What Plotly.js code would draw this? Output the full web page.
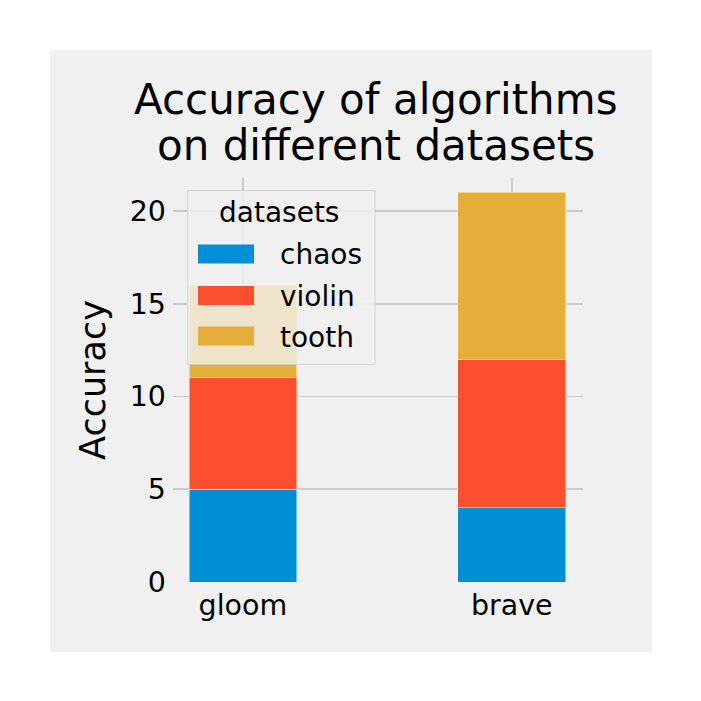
<!DOCTYPE html>
<html>
<head>
<meta charset="utf-8">
<script src="https://cdn.plot.ly/plotly-3.0.1.min.js"></script>
<style>
  html, body { margin: 0; padding: 0; background: #ffffff; width: 701px; height: 701px; overflow: hidden; }
  #chart { position: absolute; left: 50px; top: 50px; width: 602px; height: 602px; }
</style>
</head>
<body>
<div id="chart"></div>
<script>
// ---- data ----
const categories = ['gloom', 'brave'];
const seriesNames = ['chaos', 'violin', 'tooth'];
const chaos = [5, 4];
const violin = [6, 8];
const tooth = [5, 9];
const yTicks = [0, 5, 10, 15, 20];
const titleLines = ['Accuracy of algorithms', 'on different datasets'];
const yTitle = 'Accuracy';
const legendTitle = 'datasets';

// ---- style ----
const colors = ['#008fd5', '#fc4f30', '#e5ae38'];
const FONT = 'DejaVu Sans, sans-serif';
const OFF = 50;                       // div offset in page
const L = 123, T = 128, W = 410, H = 404; // plot area inside div
const px = X => (X - OFF - L) / W;
const py = Y => 1 - (Y - OFF - T) / H;

const values = [chaos, violin, tooth];
const traces = seriesNames.map((name, i) => ({
  type: 'bar',
  name: name,
  x: categories,
  y: values[i],
  width: 0.4,
  marker: { color: colors[i], line: { color: 'rgba(255,255,255,0.45)', width: 1 } },
  showlegend: false,
  hoverinfo: 'x+y+name'
}));

// custom legend (matplotlib-like wide patches)
const legendRowsY = [254, 295.5, 336];
const shapes = [
  { type: 'rect', xref: 'paper', yref: 'paper', layer: 'above',
    x0: px(187.5), x1: px(375), y0: py(364.5), y1: py(190.5),
    fillcolor: 'rgba(240,240,240,0.8)', line: { color: 'rgba(205,205,205,0.8)', width: 1 } }
];
const annotations = [];
seriesNames.forEach((name, i) => {
  shapes.push({ type: 'rect', xref: 'paper', yref: 'paper', layer: 'above',
    x0: px(198), x1: px(254), y0: py(legendRowsY[i] + 9.5), y1: py(legendRowsY[i] - 9.5),
    fillcolor: colors[i], line: { width: 0 } });
  annotations.push({ xref: 'paper', yref: 'paper', x: px(278), y: py(legendRowsY[i] + 1),
    xanchor: 'left', yanchor: 'middle', showarrow: false, text: name,
    font: { family: FONT, size: 28, color: '#000000' } });
});
annotations.push({ xref: 'paper', yref: 'paper', x: px(279), y: py(212),
  xanchor: 'center', yanchor: 'middle', showarrow: false, text: legendTitle,
  font: { family: FONT, size: 28, color: '#000000' } });

// title lines
const titleY = [99, 146];
titleLines.forEach((t, i) => {
  annotations.push({ xref: 'paper', yref: 'paper', x: px(376), y: py(titleY[i]),
    xanchor: 'center', yanchor: 'middle', showarrow: false, text: t,
    font: { family: FONT, size: 42, color: '#000000' } });
});

const layout = {
  width: 602, height: 602,
  margin: { l: L, r: 602 - L - W, t: T, b: 602 - T - H, pad: 0 },
  paper_bgcolor: '#f0f0f0',
  plot_bgcolor: '#f0f0f0',
  font: { family: FONT, size: 28, color: '#000000' },
  barmode: 'stack',
  bargap: 0,
  showlegend: false,
  xaxis: {
    type: 'category',
    range: [-0.26, 1.265],
    showgrid: true, gridcolor: '#cbcbcb', gridwidth: 1.6,
    zeroline: false, showline: false, ticks: '',
    tickfont: { family: FONT, size: 28.5, color: '#000000' },
    ticklabelstandoff: 3,
    fixedrange: true
  },
  yaxis: {
    range: [0, 21.78],
    tickvals: yTicks,
    ticktext: yTicks.map(String),
    showgrid: true, gridcolor: '#cbcbcb', gridwidth: 1.6,
    zeroline: false, showline: false, ticks: '',
    tickfont: { family: FONT, size: 28.5, color: '#000000' },
    ticklabelstandoff: 6,
    title: { text: yTitle, font: { family: FONT, size: 35, color: '#000000' }, standoff: 13 },
    automargin: false,
    fixedrange: true
  },
  shapes: shapes,
  annotations: annotations
};

Plotly.newPlot('chart', traces, layout, { displayModeBar: false, staticPlot: true });
</script>
</body>
</html>
